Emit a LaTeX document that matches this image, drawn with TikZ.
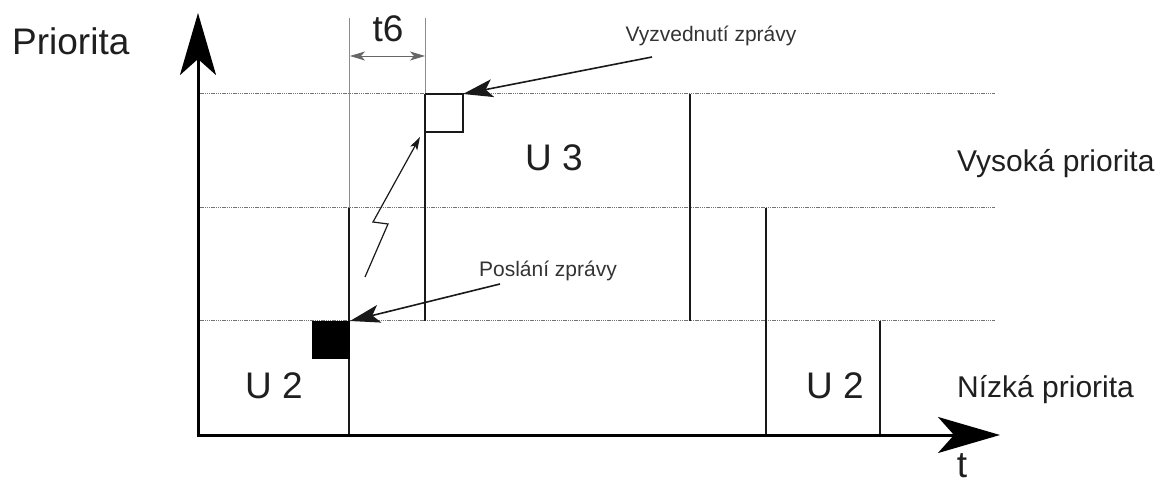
\documentclass[tikz,border=0pt]{standalone}
\usepackage{fontspec}
\setmainfont{Liberation Sans}
\usetikzlibrary{arrows.meta}
\begin{document}
\begin{tikzpicture}[x=1pt,y=-1pt,
  axis/.style={line width=3pt,-{Stealth[length=62pt,width=36pt,inset=16pt]}},
  bar/.style={line width=2pt,black!90},
  guide/.style={line width=0.8pt,black!45},
  level/.style={line width=1pt,black!55,dash pattern=on 1.4pt off 0.8pt},
  callout/.style={line width=1.6pt,black!90,-{Stealth[length=30pt,width=18pt,inset=7pt]}},
  zap/.style={line width=1.2pt,black!90,-{Stealth[length=13pt,width=8pt,inset=3pt]}},
  dim/.style={line width=0.8pt,black!60,{Stealth[length=15pt,width=9pt,inset=4pt]}-{Stealth[length=15pt,width=9pt,inset=4pt]}},
  big/.style={font=\fontsize{37}{40}\selectfont,inner sep=0pt,text=black!88},
  mid/.style={font=\fontsize{30}{34}\selectfont,inner sep=0pt,text=black!88},
  small/.style={font=\fontsize{21}{24}\selectfont,inner sep=0pt,text=black!80}]
\useasboundingbox (0,0) rectangle (1157,486);
% coordinates
\coordinate (O) at (198,435);
\coordinate (Ytop) at (198,13);
\coordinate (Xend) at (1000,435);
% priority levels
\coordinate (L1a) at (198,94);  \coordinate (L1b) at (995,94);
\coordinate (L2a) at (198,208); \coordinate (L2b) at (995,208);
\coordinate (L3a) at (198,321); \coordinate (L3b) at (995,321);
\draw[level] (L1a) -- (L1b);
\draw[level] (L2a) -- (L2b);
\draw[level] (L3a) -- (L3b);
% thin guide lines
\coordinate (G1t) at (349,18); \coordinate (G1b) at (349,208);
\coordinate (G2t) at (425,18); \coordinate (G2b) at (425,94);
\draw[guide] (G1t) -- (G1b);
\draw[guide] (G2t) -- (G2b);
% thick bars
\coordinate (B1t) at (349,208); \coordinate (B1b) at (349,435);
\coordinate (B2t) at (425,94);  \coordinate (B2b) at (425,321);
\coordinate (B3t) at (690,94);  \coordinate (B3b) at (690,321);
\coordinate (B4t) at (766,208); \coordinate (B4b) at (766,435);
\coordinate (B5t) at (880,321); \coordinate (B5b) at (880,435);
\draw[bar] (B1t) -- (B1b);
\draw[bar] (B2t) -- (B2b);
\draw[bar] (B3t) -- (B3b);
\draw[bar] (B4t) -- (B4b);
\draw[bar] (B5t) -- (B5b);
% squares
\coordinate (SqB1) at (312,321); \coordinate (SqB2) at (350,359);
\fill[black] (SqB1) rectangle (SqB2);
\coordinate (SqW1) at (425,94); \coordinate (SqW2) at (463,132);
\draw[line width=2pt,black!90] (SqW1) -- (SqW2 |- SqW1) -- (SqW2) -- (SqW1 |- SqW2);
% axes
\draw[axis] (O) -- (Ytop);
\draw[axis] ([xshift=-1.5pt]O) -- (Xend);
% dimension t6
\coordinate (D1) at (350,56); \coordinate (D2) at (425,56);
\draw[dim] (D1) -- (D2);
\node[big,anchor=base] (t6) at (388,42) {t6};
% lightning
\coordinate (Z1) at (365,277);
\coordinate (Z2) at (388,224);
\coordinate (Z3) at (373,222);
\coordinate (Z4) at (420,137);
\draw[zap] (Z1) -- (Z2) -- (Z3) -- (Z4);
% callouts
\node[small,anchor=base] (vyz) at (711,42) {Vyzvednutí zprávy};
\coordinate (vyzS) at (652,57);
\draw[callout] (vyzS) -- (SqW2 |- SqW1);
\node[small,anchor=base] (pos) at (548,277) {Poslání zprávy};
\coordinate (posS) at (500,284);
\draw[callout] (posS) -- (SqB2 |- SqB1);
% labels
\node[big,anchor=base west] (prio) at (12,55) {Priorita};
\node[big,anchor=base] (u3) at (554,171) {U 3};
\node[big,anchor=base] (u2a) at (274,398) {U 2};
\node[big,anchor=base] (u2b) at (835,398) {U 2};
\node[mid,anchor=base west] (vys) at (957,172) {Vysoká priorita};
\node[mid,anchor=base west] (niz) at (957,397) {Nízká priorita};
\node[big,anchor=base] (tl) at (962,477) {t};
\end{tikzpicture}
\end{document}
